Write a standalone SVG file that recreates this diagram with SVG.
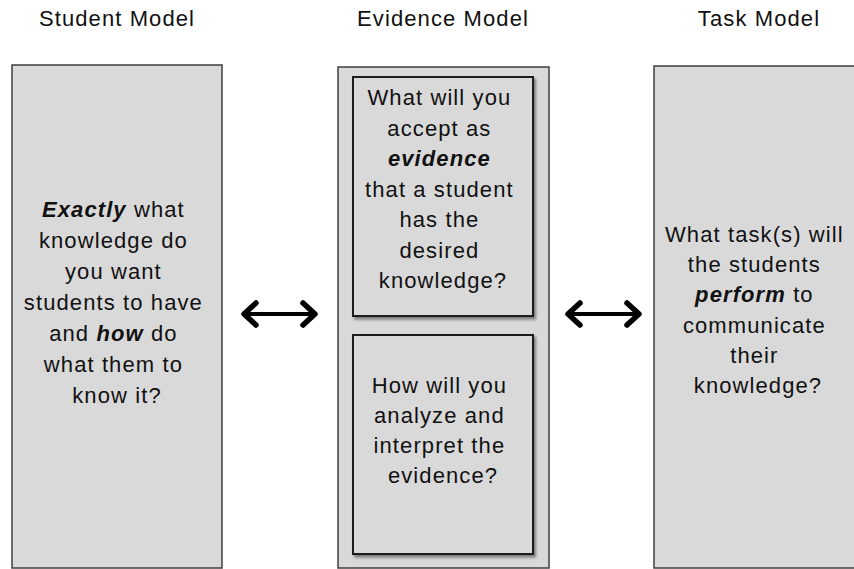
<svg xmlns="http://www.w3.org/2000/svg" width="854" height="569" viewBox="0 0 854 569">
  <style>
    .bg { fill: #ffffff; }
    .box { fill: #d9d9d9; stroke: #3f3f3f; stroke-width: 1.5; }
    .inner { fill: #d9d9d9; stroke: #1e1e1e; stroke-width: 2; filter: url(#shadow); }
    .title { font-family: "Liberation Sans", Arial, sans-serif; font-size: 22px; letter-spacing: 1.1px; fill: #111; text-anchor: middle; }
    .body { font-family: "Liberation Sans", Arial, sans-serif; font-size: 22px; letter-spacing: 1.1px; fill: #111; text-anchor: middle; }
    .em { font-weight: bold; font-style: italic; }
    .conn { stroke: #000; stroke-width: 4; fill: none; }
  </style>
  <defs>
    <filter id="shadow" x="-10%" y="-10%" width="125%" height="125%">
      <feDropShadow dx="2" dy="2.5" stdDeviation="1.5" flood-color="#000" flood-opacity="0.45"/>
    </filter>
    <marker id="chev" viewBox="-4 -4 20 30" markerWidth="20" markerHeight="30" refX="12" refY="11" orient="auto-start-reverse" markerUnits="userSpaceOnUse">
      <path d="M0,0 L12,11 L0,22" fill="none" stroke="#000" stroke-width="5.5" stroke-linecap="round" stroke-linejoin="round"/>
    </marker>
  </defs>
  <rect class="bg" x="0" y="0" width="854" height="569"/>

  <g id="titles">
    <text class="title" x="117" y="26">Student Model</text>
    <text class="title" x="443" y="26">Evidence Model</text>
    <text class="title" x="759" y="26">Task Model</text>
  </g>

  <g id="student-model">
    <rect class="box" x="12" y="65" width="210" height="503"/>
    <text class="body">
      <tspan x="117" y="217"><tspan class="em">Exactly</tspan> what</tspan>
      <tspan x="117" y="248">knowledge do</tspan>
      <tspan x="117" y="279">you want</tspan>
      <tspan x="117" y="310">students to have</tspan>
      <tspan x="117" y="341">and <tspan class="em">how</tspan> do</tspan>
      <tspan x="117" y="372">what them to</tspan>
      <tspan x="117" y="403">know it?</tspan>
    </text>
  </g>

  <g id="evidence-model">
    <rect class="box" x="338" y="67" width="211" height="501"/>
    <g id="evidence-accept">
      <rect class="inner" x="353" y="77" width="180" height="239"/>
      <text class="body">
        <tspan x="443" y="105">What will you</tspan>
        <tspan x="443" y="135.5">accept as</tspan>
        <tspan x="443" y="166" class="em">evidence</tspan>
        <tspan x="443" y="196.5">that a student</tspan>
        <tspan x="443" y="227">has the</tspan>
        <tspan x="443" y="257.5">desired</tspan>
        <tspan x="443" y="288">knowledge?</tspan>
      </text>
    </g>
    <g id="evidence-analyze">
      <rect class="inner" x="353" y="335" width="180" height="219"/>
      <text class="body">
        <tspan x="443" y="393">How will you</tspan>
        <tspan x="443" y="423">analyze and</tspan>
        <tspan x="443" y="453">interpret the</tspan>
        <tspan x="443" y="483">evidence?</tspan>
      </text>
    </g>
  </g>

  <g id="task-model">
    <rect class="box" x="654" y="66" width="212" height="502"/>
    <text class="body">
      <tspan x="758" y="242">What task(s) will</tspan>
      <tspan x="758" y="272.2">the students</tspan>
      <tspan x="758" y="302.4"><tspan class="em">perform</tspan> to</tspan>
      <tspan x="758" y="332.6">communicate</tspan>
      <tspan x="758" y="362.8">their</tspan>
      <tspan x="758" y="393">knowledge?</tspan>
    </text>
  </g>

  <g id="connectors">
    <line class="conn" x1="244" y1="314" x2="315" y2="314" marker-start="url(#chev)" marker-end="url(#chev)"/>
    <line class="conn" x1="568" y1="314" x2="639" y2="314" marker-start="url(#chev)" marker-end="url(#chev)"/>
  </g>
</svg>
